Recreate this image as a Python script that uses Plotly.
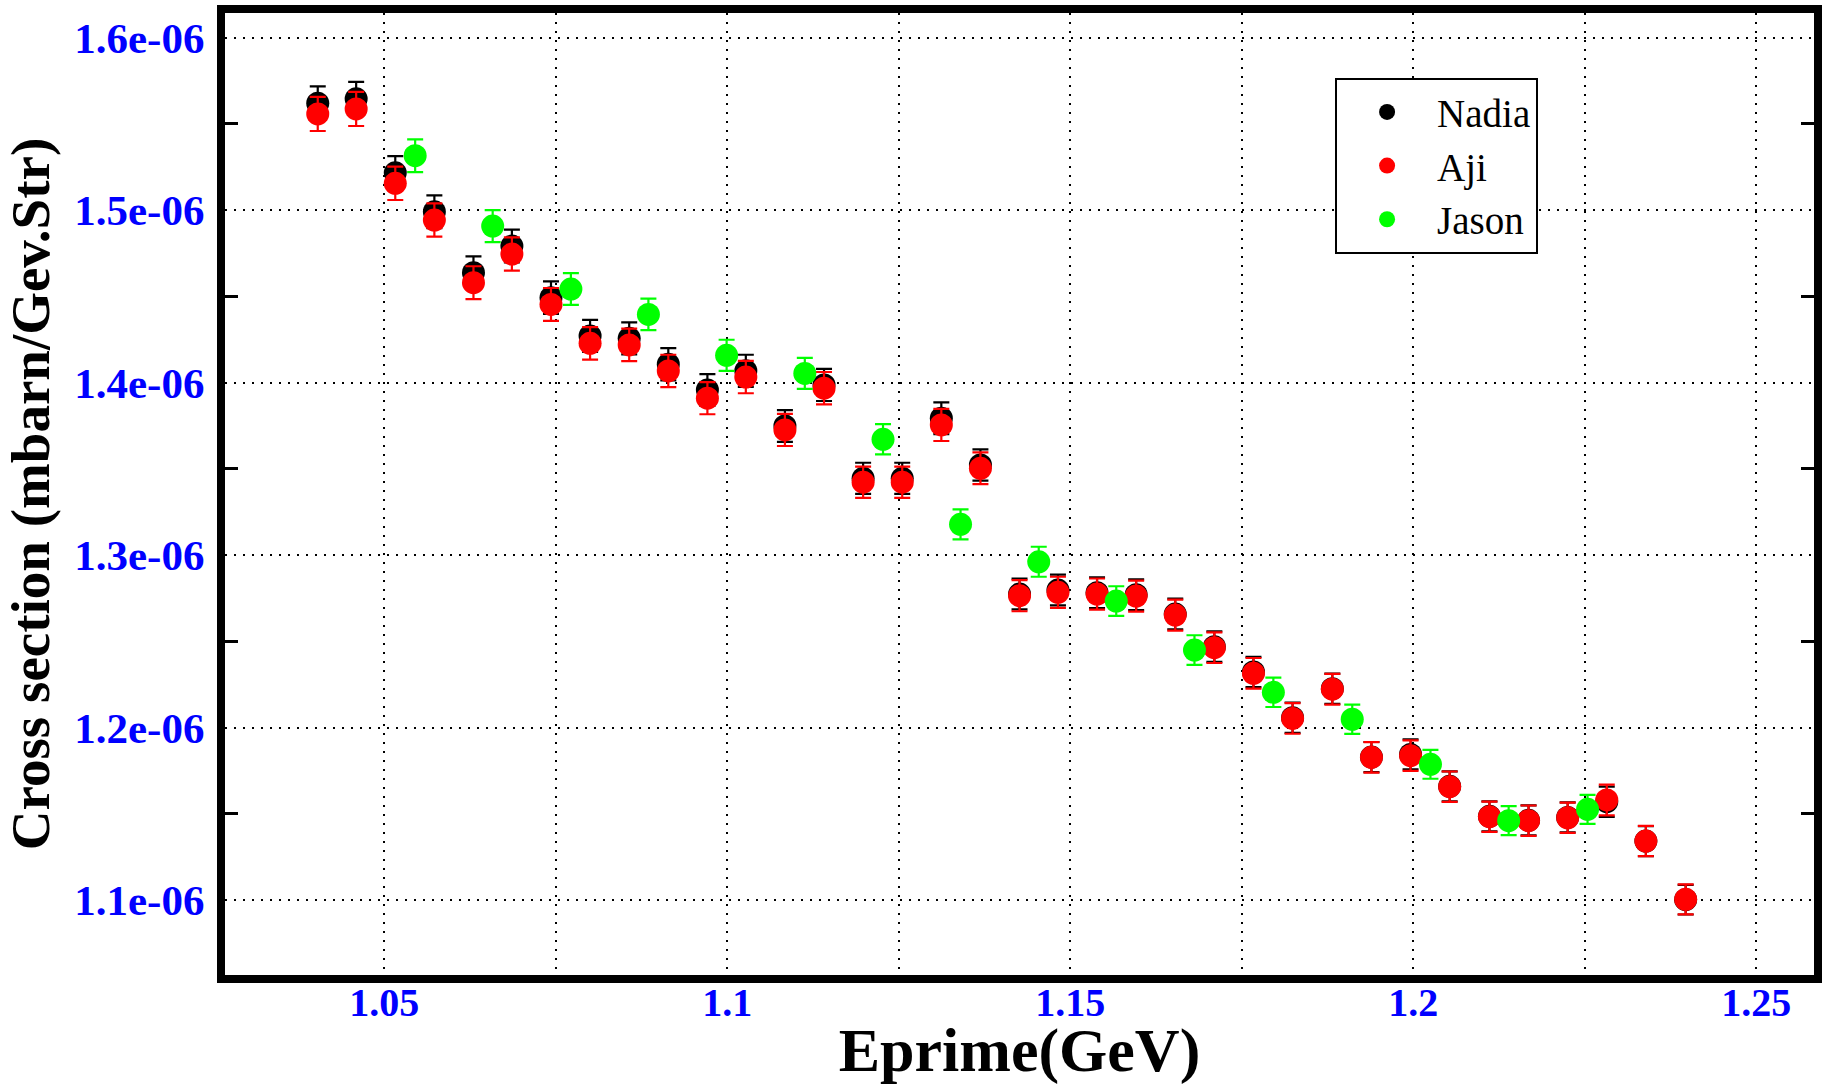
import plotly.graph_objects as go

SCALE = 1e-6

# Nadia & Aji share the same Eprime bins (GeV)
x_na = [1.0403, 1.0459, 1.0516, 1.0573, 1.0630, 1.0686, 1.0743, 1.0800, 1.0857,
        1.0914, 1.0971, 1.1027, 1.1084, 1.1141, 1.1198, 1.1255, 1.1312, 1.1369,
        1.1426, 1.1482, 1.1539, 1.1596, 1.1653, 1.1710, 1.1767, 1.1824, 1.1882,
        1.1939, 1.1996, 1.2053, 1.2111, 1.2168, 1.2225, 1.2282, 1.2339, 1.2397]

# cross sections in units of 1e-6 mbarn/GeV/sr
nadia_y = [1.5620, 1.5646, 1.5217, 1.4991, 1.4638, 1.4792, 1.4493, 1.4271, 1.4257,
           1.4107, 1.3958, 1.4069, 1.3749, 1.3987, 1.3446, 1.3446, 1.3794, 1.3523,
           1.2775, 1.2798, 1.2783, 1.2771, 1.2659, 1.2470, 1.2323, 1.2058, 1.2226,
           1.1830, 1.1845, 1.1660, 1.1486, 1.1463, 1.1480, 1.1571, 1.1343, 1.1003]
nadia_err = [0.0098, 0.0098, 0.0096, 0.0095, 0.0094, 0.0095, 0.0094, 0.0093, 0.0093,
             0.0093, 0.0092, 0.0093, 0.0092, 0.0093, 0.0090, 0.0090, 0.0092, 0.0091,
             0.0089, 0.0089, 0.0089, 0.0089, 0.0089, 0.0088, 0.0088, 0.0088, 0.0088,
             0.0087, 0.0087, 0.0087, 0.0087, 0.0087, 0.0087, 0.0088, 0.0087, 0.0086]

aji_y = [1.5558, 1.5587, 1.5156, 1.4943, 1.4580, 1.4746, 1.4454, 1.4228, 1.4219,
         1.4068, 1.3910, 1.4033, 1.3726, 1.3968, 1.3423, 1.3423, 1.3755, 1.3504,
         1.2765, 1.2785, 1.2775, 1.2763, 1.2653, 1.2464, 1.2315, 1.2054, 1.2223,
         1.1828, 1.1838, 1.1658, 1.1484, 1.1461, 1.1478, 1.1581, 1.1343, 1.1005]
aji_err = [0.0099, 0.0099, 0.0097, 0.0096, 0.0095, 0.0096, 0.0095, 0.0094, 0.0094,
           0.0094, 0.0093, 0.0094, 0.0093, 0.0094, 0.0091, 0.0091, 0.0093, 0.0092,
           0.0090, 0.0090, 0.0090, 0.0090, 0.0090, 0.0089, 0.0089, 0.0089, 0.0089,
           0.0088, 0.0088, 0.0088, 0.0088, 0.0088, 0.0088, 0.0089, 0.0088, 0.0087]

x_jason = [1.0545, 1.0658, 1.0772, 1.0885, 1.0999, 1.1113, 1.1227, 1.1340,
           1.1454, 1.1567, 1.1681, 1.1796, 1.1911, 1.2025, 1.2139, 1.2254]
jason_y = [1.5316, 1.4908, 1.4543, 1.4396, 1.4159, 1.4054, 1.3672, 1.3179,
           1.2962, 1.2734, 1.2450, 1.2205, 1.2049, 1.1788, 1.1461, 1.1527]
jason_err = [0.0095, 0.0093, 0.0092, 0.0091, 0.0090, 0.0090, 0.0088, 0.0087,
             0.0087, 0.0086, 0.0086, 0.0085, 0.0085, 0.0084, 0.0084, 0.0084]

x_tickvals = [1.05, 1.075, 1.1, 1.125, 1.15, 1.175, 1.2, 1.225, 1.25]
x_ticktext = ["1.05", "", "1.1", "", "1.15", "", "1.2", "", "1.25"]
y_tickvals = [1.1, 1.2, 1.3, 1.4, 1.5, 1.6]
y_ticktext = ["1.1e-06", "1.2e-06", "1.3e-06", "1.4e-06", "1.5e-06", "1.6e-06"]
y_minorvals = [1.05, 1.15, 1.25, 1.35, 1.45, 1.55]

x_range = [1.02678, 1.25841]
y_range = [1.05664, 1.61432]


def sc(vals):
    return [v * SCALE for v in vals]


SERIF = "Liberation Serif, Times New Roman, serif"

fig = go.Figure()

series = [
    ("Nadia", x_na, nadia_y, nadia_err, "#000000", 1),
    ("Aji", x_na, aji_y, aji_err, "#ff0000", 2),
    ("Jason", x_jason, jason_y, jason_err, "#00ff00", 3),
]
for name, xs, ys, es, col, rank in series:
    fig.add_trace(go.Scatter(
        x=xs, y=sc(ys), name=name, mode="markers", legendrank=rank,
        marker=dict(symbol="circle", size=23, color=col, line=dict(width=0)),
        error_y=dict(type="data", array=sc(es), visible=True, color=col,
                     thickness=2.2, width=8),
    ))

fig.update_layout(
    width=1823, height=1085,
    margin=dict(l=225, r=9, t=13, b=110),
    paper_bgcolor="white", plot_bgcolor="white",
    font=dict(family=SERIF, color="black"),
    legend=dict(
        x=0.6986, y=0.9324, xanchor="left", yanchor="top",
        bgcolor="white", bordercolor="black", borderwidth=2,
        font=dict(family=SERIF, size=39, color="black"),
        itemwidth=90, tracegroupgap=0,
    ),
    showlegend=True,
)

fig.update_xaxes(
    range=x_range, tickmode="array", tickvals=x_tickvals, ticktext=x_ticktext,
    ticks="", ticklen=0, showgrid=True, gridcolor="black", gridwidth=2, griddash="2px,7px",
    showline=True, linecolor="black", linewidth=8, mirror=True, zeroline=False,
    automargin=False,
    tickfont=dict(family=SERIF, size=40, color="#0000ff", weight="bold"),
    ticklabelstandoff=-15,
    title=dict(text="<b>Eprime(GeV)</b>", font=dict(family=SERIF, size=62, color="black"),
               standoff=20),
)

fig.update_yaxes(
    range=sc(y_range), tickmode="array", tickvals=sc(y_tickvals), ticktext=y_ticktext,
    ticks="", showgrid=True, gridcolor="black", gridwidth=2, griddash="2px,7px",
    showline=True, linecolor="black", linewidth=8, mirror="ticks", zeroline=False,
    automargin=False,
    minor=dict(tickmode="array", tickvals=sc(y_minorvals), ticks="inside",
               ticklen=13, tickwidth=3, tickcolor="black", showgrid=False),
    tickfont=dict(family=SERIF, size=43, color="#0000ff", weight="bold"),
    ticklabelstandoff=4,
    title=dict(text="<b>Cross section (mbarn/Gev.Str)</b>",
               font=dict(family=SERIF, size=55, color="black"), standoff=16),
)

fig.write_html("out.html")
